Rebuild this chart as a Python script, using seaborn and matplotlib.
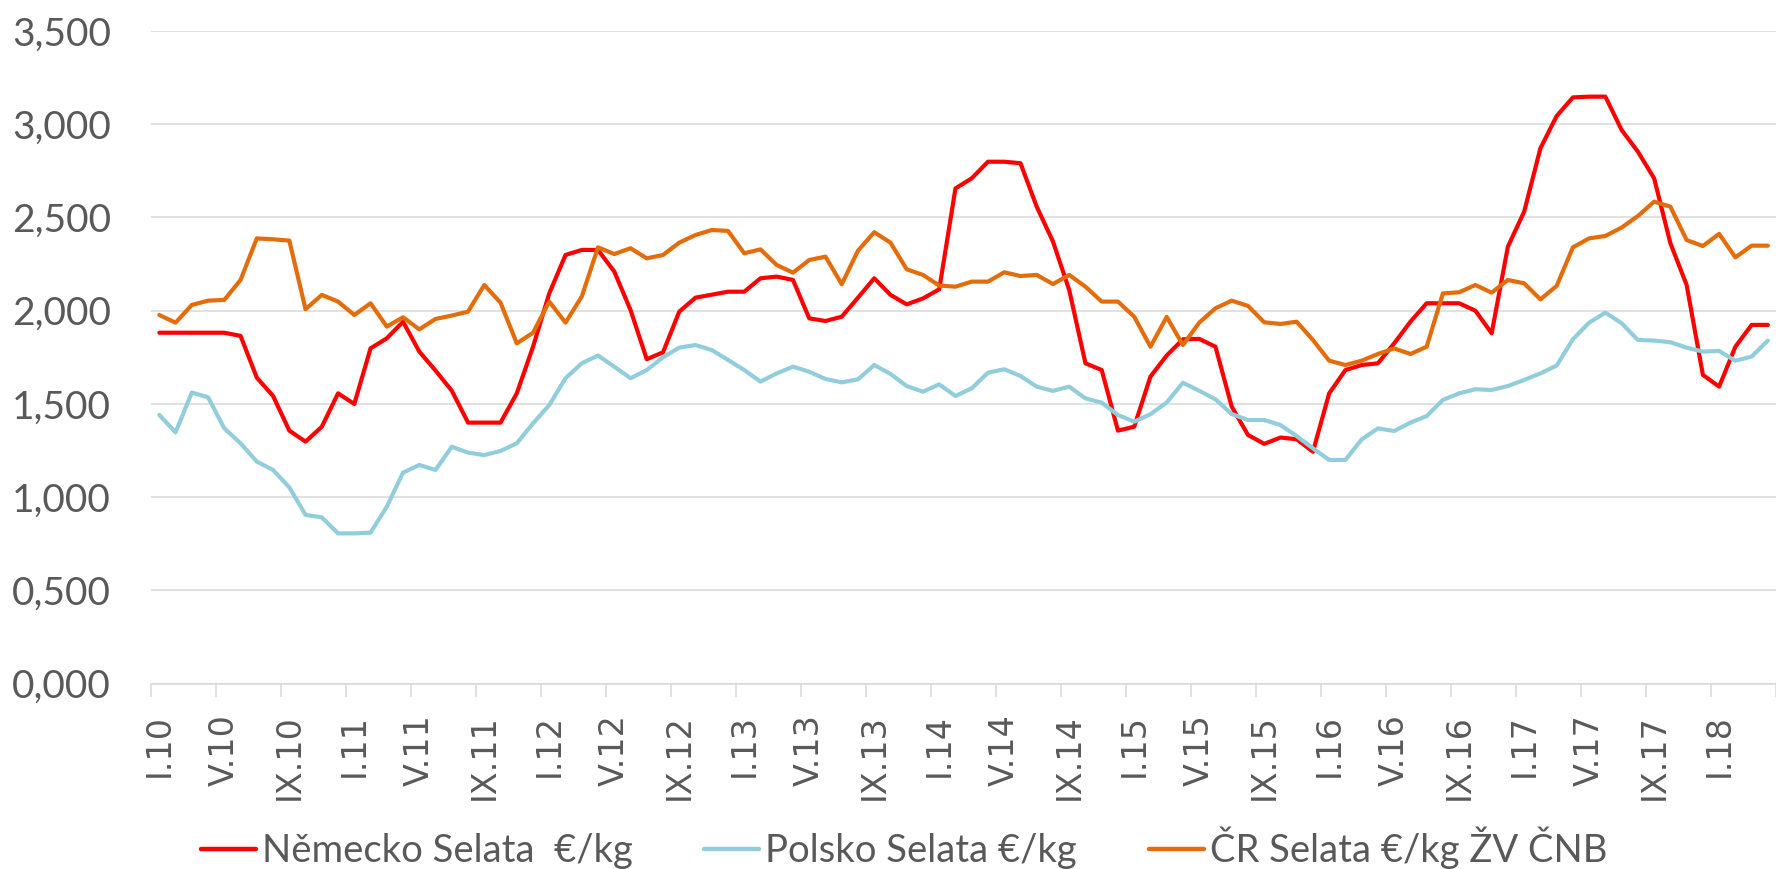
import numpy as np
import pandas as pd
import matplotlib
matplotlib.use("Agg")
import matplotlib.pyplot as plt
from matplotlib.lines import Line2D
import seaborn as sns

# ---------------- data (EUR/kg) ----------------
roman = ["I", "II", "III", "IV", "V", "VI", "VII", "VIII", "IX", "X", "XI", "XII"]
months = [f"{r}.{y}" for y in range(10, 19) for r in roman][:100]

nemecko = [1.882, 1.882, 1.882, 1.882, 1.882, 1.865, 1.641, 1.543, 1.357, 1.298,
           1.378, 1.557, 1.500, 1.798, 1.852, 1.941, 1.781, 1.679, 1.571, 1.400,
           1.400, 1.400, 1.557, 1.807, 2.093, 2.299, 2.326, 2.326, 2.210, 2.004,
           1.740, 1.777, 1.995, 2.070, 2.086, 2.102, 2.102, 2.174, 2.183, 2.165,
           1.959, 1.945, 1.968, 2.070, 2.174, 2.085, 2.034, 2.066, 2.115, 2.656,
           2.710, 2.799, 2.799, 2.791, 2.558, 2.371, 2.111, 1.718, 1.682, 1.357,
           1.378, 1.647, 1.760, 1.847, 1.849, 1.807, 1.486, 1.334, 1.286, 1.320,
           1.311, 1.244, 1.557, 1.682, 1.709, 1.718, 1.825, 1.941, 2.040, 2.040,
           2.040, 2.000, 1.879, 2.344, 2.531, 2.871, 3.044, 3.144, 3.148, 3.148,
           2.969, 2.853, 2.710, 2.362, 2.138, 1.656, 1.593, 1.807, 1.924, 1.924]

polsko = [1.441, 1.348, 1.561, 1.536, 1.369, 1.289, 1.191, 1.146, 1.053, 0.905,
          0.892, 0.806, 0.806, 0.810, 0.949, 1.132, 1.173, 1.146, 1.271, 1.239,
          1.226, 1.248, 1.289, 1.396, 1.494, 1.638, 1.718, 1.760, 1.700, 1.638,
          1.682, 1.750, 1.802, 1.816, 1.789, 1.736, 1.682, 1.620, 1.664, 1.700,
          1.673, 1.634, 1.616, 1.632, 1.709, 1.661, 1.596, 1.566, 1.605, 1.543,
          1.584, 1.668, 1.686, 1.650, 1.593, 1.570, 1.593, 1.530, 1.507, 1.441,
          1.405, 1.445, 1.508, 1.614, 1.571, 1.525, 1.446, 1.414, 1.414, 1.387,
          1.328, 1.262, 1.200, 1.200, 1.310, 1.369, 1.355, 1.400, 1.435, 1.522,
          1.557, 1.579, 1.575, 1.596, 1.629, 1.664, 1.706, 1.847, 1.936, 1.990,
          1.933, 1.843, 1.840, 1.831, 1.802, 1.781, 1.784, 1.732, 1.754, 1.840]

cr = [1.977, 1.936, 2.031, 2.054, 2.058, 2.165, 2.388, 2.383, 2.376, 2.008,
      2.085, 2.049, 1.977, 2.040, 1.915, 1.965, 1.900, 1.956, 1.974, 1.995,
      2.138, 2.043, 1.825, 1.882, 2.049, 1.936, 2.076, 2.340, 2.304, 2.335,
      2.281, 2.299, 2.365, 2.406, 2.433, 2.428, 2.308, 2.329, 2.245, 2.204,
      2.272, 2.290, 2.142, 2.322, 2.421, 2.365, 2.222, 2.192, 2.135, 2.129,
      2.156, 2.156, 2.206, 2.186, 2.192, 2.143, 2.192, 2.129, 2.049, 2.049,
      1.968, 1.807, 1.967, 1.816, 1.936, 2.013, 2.054, 2.026, 1.938, 1.929,
      1.941, 1.843, 1.732, 1.709, 1.732, 1.768, 1.798, 1.768, 1.807, 2.093,
      2.099, 2.138, 2.097, 2.165, 2.147, 2.061, 2.133, 2.340, 2.388, 2.401,
      2.446, 2.508, 2.585, 2.558, 2.379, 2.347, 2.412, 2.286, 2.349, 2.349]

series_names = ["Německo Selata  €/kg", "Polsko Selata €/kg", "ČR Selata €/kg ŽV ČNB"]
series_colors = ["#FF0000", "#92CDDC", "#E46C0A"]
tick_labels = months[::4]
y_ticks = [0.0, 0.5, 1.0, 1.5, 2.0, 2.5, 3.0, 3.5]

# ---------------- build frame ----------------
idx = list(range(len(months)))
df = pd.concat([
    pd.DataFrame({"idx": idx, "month": months, "value": vals, "series": name})
    for name, vals in zip(series_names, [nemecko, polsko, cr])
], ignore_index=True)

sns.set_theme(style="white")
plt.rcParams["font.family"] = ["Lato", "DejaVu Sans"]

W, H = 1776, 869
fig = plt.figure(figsize=(W / 100, H / 100), dpi=100)
x0, y0 = 151.2, 683.7
ytop = 31.0
ax = fig.add_axes([x0 / W, (H - y0) / H, (W - x0) / W, (y0 - ytop) / H])

palette = dict(zip(series_names, series_colors))
sns.lineplot(data=df, x="idx", y="value", hue="series", hue_order=series_names,
             palette=palette, linewidth=3.0, legend=False, ax=ax, sort=True)
for ln in ax.get_lines():
    ln.set_solid_joinstyle("round")
    ln.set_solid_capstyle("round")

ax.set_xlim(-0.5, (W - x0) / 16.35 - 0.5)
ax.set_ylim(0, 3.5)

grid_c = "#D9D9D9"
text_c = "#595959"
ax.set_yticks(y_ticks)
ax.set_yticklabels([f"{v:.3f}".replace(".", ",") for v in y_ticks],
                   fontsize=28, color=text_c)
ax.tick_params(axis="y", length=0, pad=29)
ax.yaxis.grid(True, color=grid_c, linewidth=1.1)
ax.xaxis.grid(False)

ax.set_xticks(idx[::4])
ax.set_xticks(np.arange(-0.5, len(months), 4), minor=True)
ax.tick_params(axis="x", which="major", length=0, pad=22)
ax.tick_params(axis="x", which="minor", length=9.5, width=1.1, color=grid_c,
               direction="out", bottom=True)
ax.set_xticklabels(tick_labels, rotation=90, color=text_c, ha="center", va="top")
for t in ax.get_xticklabels():
    t.set_fontfamily(["DejaVu Sans"])
    t.set_fontsize(24)

for s in ["top", "right", "left"]:
    ax.spines[s].set_visible(False)
ax.spines["bottom"].set_color(grid_c)
ax.spines["bottom"].set_linewidth(1.1)
ax.set_xlabel("")
ax.set_ylabel("")

handles = [Line2D([0], [0], color=c, lw=3.2) for c in series_colors]
fig.legend(handles, series_names, loc="center",
           bbox_to_anchor=(904.0 / W, 1 - 848 / H), ncol=3, frameon=False,
           fontsize=27.5, labelcolor=text_c, handlelength=1.44, handletextpad=0.16,
           columnspacing=1.88, borderpad=0, borderaxespad=0)

fig.savefig("out.png", dpi=100)
